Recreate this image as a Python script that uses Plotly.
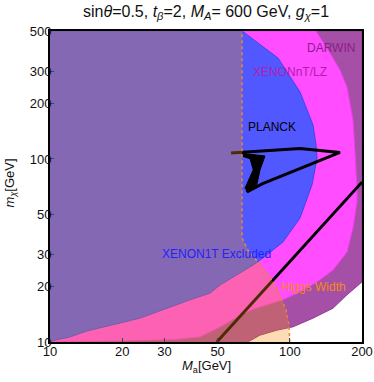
import math
import plotly.graph_objects as go

# ---- data (M_a [GeV], m_chi [GeV]) ----
x1t_ma = [10, 63.2, 89.3, 110.3, 125.0, 128.5, 129.9, 123.7, 110.3, 93.7, 77.3, 70.2, 51.2, 46.5, 38.4, 31.6, 23.7, 19.6, 16.2, 14.3, 12.1, 10.5, 10]
x1t_mx = [500, 500, 356, 232, 153, 120, 101, 72.1, 47.6, 35.2, 28.8, 26.3, 20.5, 18.5, 17.0, 15.5, 13.5, 12.7, 11.9, 11.5, 10.65, 10.25, 10.1]

xnt_ma = [10, 128.6, 147.1, 161.9, 173.2, 183.4, 187.0, 190.6, 190.6, 183.4, 173.2, 151.4, 129.9, 110.3, 93.7, 80.3, 70.2, 62.0, 53.7, 46.5, 42.2, 32.6, 19.6, 10]
xnt_mx = [500, 500, 379, 306, 247, 163.3, 109.2, 69.4, 58.2, 42.0, 31.0, 24.7, 21.3, 18.8, 17.0, 15.9, 15.1, 14.0, 12.5, 11.34, 10.65, 10.32, 10.13, 10.05]

darwin_ma = [10, 66.9, 75.1, 88.4, 103.1, 125.0, 151.4, 173.2, 200, 200, 10]
darwin_mx = [10, 10, 10.9, 11.6, 12.1, 13.5, 15.3, 18.1, 21.3, 500, 500]

higgs_ma = [10, 100.0, 99.2, 96.4, 91.9, 86.8, 80.3, 73.7, 66.9, 63.2, 63.2, 10]
higgs_mx = [10, 10, 12.4, 15.0, 17.4, 20.5, 23.8, 27.4, 31.8, 37.0, 500, 500]

planck_loop_ma = [56.9, 76.6, 110.3, 161.9, 110.3, 76.6, 66.3, 71.6, 73.7, 63.0]
planck_loop_mx = [107.8, 110.6, 114.1, 108.5, 88.2, 73.0, 66.0, 81.7, 98.7, 105.0]
planck_wedge_ma = [63.0, 78.8, 75.1, 72.8, 67.1, 65.0, 70.4, 68.2]
planck_wedge_mx = [107.4, 103.8, 87.1, 72.1, 66.3, 69.2, 87.1, 100.9]
planck_line_ma = [49.6, 200]
planck_line_mx = [10, 74.7]

labels = ["DARWIN", "XENONnT/LZ", "PLANCK", "XENON1T Excluded", "Higgs Width"]
label_ma = [148.5, 100.2, 84.3, 49.7, 125.0]
label_mx = [404, 298.7, 149.5, 30.3, 20.0]
label_colors = ["#8B1C8B", "#B01EB0", "#000000", "#2222FF", "#F5891A"]

xticks = [10, 20, 30, 50, 100, 200]
yticks = [10, 20, 30, 50, 100, 200, 300, 500]

FONT = "Liberation Sans, Arial, sans-serif"
fig = go.Figure()

def region(xs, ys, fill, line):
    fig.add_trace(go.Scatter(x=xs, y=ys, mode="lines", fill="toself",
                             fillcolor=fill, line=dict(color=line, width=1),
                             hoverinfo="skip", showlegend=False))

region(darwin_ma, darwin_mx, "rgb(166,79,166)", "rgb(150,60,150)")
region(xnt_ma, xnt_mx, "rgb(255,77,255)", "rgb(240,60,240)")
region(x1t_ma, x1t_mx, "rgb(82,88,255)", "rgb(60,70,240)")

# PLANCK
fig.add_trace(go.Scatter(x=planck_wedge_ma, y=planck_wedge_mx, mode="lines", fill="toself",
                         fillcolor="black", line=dict(color="black", width=1),
                         hoverinfo="skip", showlegend=False))
fig.add_trace(go.Scatter(x=planck_loop_ma, y=planck_loop_mx, mode="lines",
                         line=dict(color="black", width=3),
                         hoverinfo="skip", showlegend=False))
fig.add_trace(go.Scatter(x=planck_line_ma, y=planck_line_mx, mode="lines",
                         line=dict(color="black", width=3),
                         hoverinfo="skip", showlegend=False))

# Higgs width overlay
fig.add_trace(go.Scatter(x=higgs_ma, y=higgs_mx, mode="lines", fill="toself",
                         fillcolor="rgba(248,142,10,0.31)", line=dict(width=0),
                         hoverinfo="skip", showlegend=False))
fig.add_trace(go.Scatter(x=higgs_ma[1:-1], y=higgs_mx[1:-1], mode="lines",
                         line=dict(color="rgb(225,135,60)", width=1.5, dash="3px,3px"),
                         hoverinfo="skip", showlegend=False))

for t, xa, ya, c in zip(labels, label_ma, label_mx, label_colors):
    fig.add_annotation(x=math.log10(xa), y=math.log10(ya), xref="x", yref="y",
                       text=t, showarrow=False, font=dict(size=12, color=c, family=FONT))

# title and axis titles
fig.add_annotation(x=0.5, y=1.061, xref="paper", yref="paper", xanchor="center", yanchor="middle",
                   text="sin<i>θ</i>=0.5, <i>t</i><sub><i>β</i></sub>=2, <i>M</i><sub><i>A</i></sub>= 600 GeV, <i>g</i><sub><i>χ</i></sub>=1",
                   showarrow=False, font=dict(size=16, color="#111", family=FONT))
fig.add_annotation(x=0.5, y=-0.078, xref="paper", yref="paper", xanchor="center", yanchor="middle",
                   text="<i>M</i><sub>a</sub>[GeV]", showarrow=False,
                   font=dict(size=13, color="#111", family=FONT))
fig.add_annotation(x=-0.128, y=0.51, xref="paper", yref="paper", xanchor="center", yanchor="middle",
                   text="<i>m</i><sub><i>χ</i></sub>[GeV]", showarrow=False, textangle=-90,
                   font=dict(size=13, color="#111", family=FONT))

fig.update_layout(
    width=374, height=382,
    margin=dict(l=50, r=12, t=31, b=40),
    plot_bgcolor="white", paper_bgcolor="white",
    font=dict(family=FONT, color="black", size=12),
    xaxis=dict(type="log", range=[1, math.log10(200)], tickvals=xticks, automargin=False,
               ticktext=[str(v) for v in xticks], ticks="inside", ticklen=4,
               ticklabelstandoff=-4,
               showgrid=False, zeroline=False, showline=True, linecolor="black",
               linewidth=2, mirror=True, tickfont=dict(size=13, color="#111")),
    yaxis=dict(type="log", range=[1, math.log10(500)], tickvals=yticks, automargin=False,
               ticktext=[str(v) for v in yticks], ticks="inside", ticklen=4,
               ticklabelstandoff=-6,
               showgrid=False, zeroline=False, showline=True, linecolor="black",
               linewidth=2, mirror=True, tickfont=dict(size=13, color="#111")),
)

fig.write_html("out.html", config={"displayModeBar": False},
               post_script="document.body.style.margin='0px';document.body.style.overflow='hidden';")
